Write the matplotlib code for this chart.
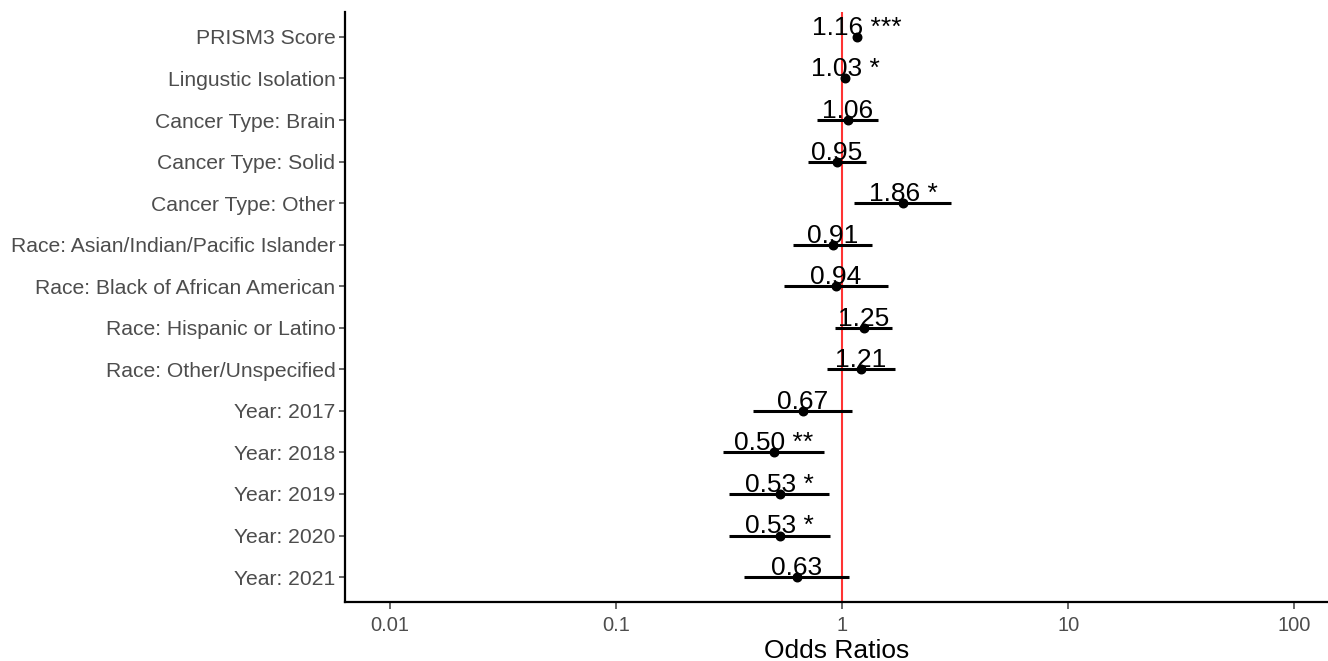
import matplotlib
matplotlib.use("Agg")
import matplotlib.pyplot as plt
import numpy as np

plt.rcParams['font.family'] = ['Liberation Sans', 'DejaVu Sans']

# Odds ratios and 95% CIs (top to bottom)
terms = ["PRISM3 Score", "Lingustic Isolation", "Cancer Type: Brain", "Cancer Type: Solid",
         "Cancer Type: Other", "Race: Asian/Indian/Pacific Islander", "Race: Black of African American",
         "Race: Hispanic or Latino", "Race: Other/Unspecified", "Year: 2017", "Year: 2018",
         "Year: 2019", "Year: 2020", "Year: 2021"]
odds = [1.16, 1.03, 1.06, 0.95, 1.86, 0.91, 0.94, 1.25, 1.21, 0.67, 0.50, 0.53, 0.53, 0.63]
ci_low = [1.12, 1.01, 0.775, 0.707, 1.13, 0.607, 0.554, 0.93, 0.86, 0.404, 0.297, 0.316, 0.316, 0.369]
ci_high = [1.20, 1.05, 1.44, 1.28, 3.03, 1.35, 1.59, 1.67, 1.71, 1.11, 0.835, 0.877, 0.885, 1.07]
stars = ["***", "*", "", "", "*", "", "", "", "", "", "**", "*", "*", ""]

n = len(terms)
ypos = np.arange(n, 0, -1)  # first term at top

fig = plt.figure(figsize=(13.28, 6.61), dpi=100)
ax = fig.add_axes([345/1328, 1 - 602/661, 1 - 345/1328, (602 - 12)/661])

ax.axvline(1, color='#FF3333', lw=1.5, zorder=1)
ax.hlines(ypos, ci_low, ci_high, color='black', lw=2.2, zorder=2)
ax.scatter(odds, ypos, color='black', s=38, zorder=3)

for x, y, s in zip(odds, ypos, stars):
    lab = f"{x:.2f}" + (f" {s}" if s else "")
    ax.text(x, y + 0.05, lab, ha='center', va='baseline', fontsize=19, color='black', zorder=4)

ax.set_xscale('log')
ax.set_xlim(10**-2.2, 10**2.15)
ax.set_ylim(0.4, n + 0.6)
ax.set_xticks([0.01, 0.1, 1, 10, 100])
ax.set_xticklabels(["0.01", "0.1", "1", "10", "100"])
ax.minorticks_off()
ax.set_yticks(ypos)
ax.set_yticklabels(terms)

ax.tick_params(axis='y', labelsize=15.2, colors='#4D4D4D', length=4, width=1.2, pad=3)
ax.tick_params(axis='x', labelsize=14.5, colors='#4D4D4D', length=5, width=1.2, pad=5)
for lbl in ax.get_xticklabels() + ax.get_yticklabels():
    lbl.set_color('#4D4D4D')
ax.set_xlabel("Odds Ratios", fontsize=19, color='black', labelpad=3)

for side in ['top', 'right']:
    ax.spines[side].set_visible(False)
for side in ['left', 'bottom']:
    ax.spines[side].set_linewidth(1.6)
    ax.spines[side].set_color('black')

fig.savefig("out.png", dpi=100)
